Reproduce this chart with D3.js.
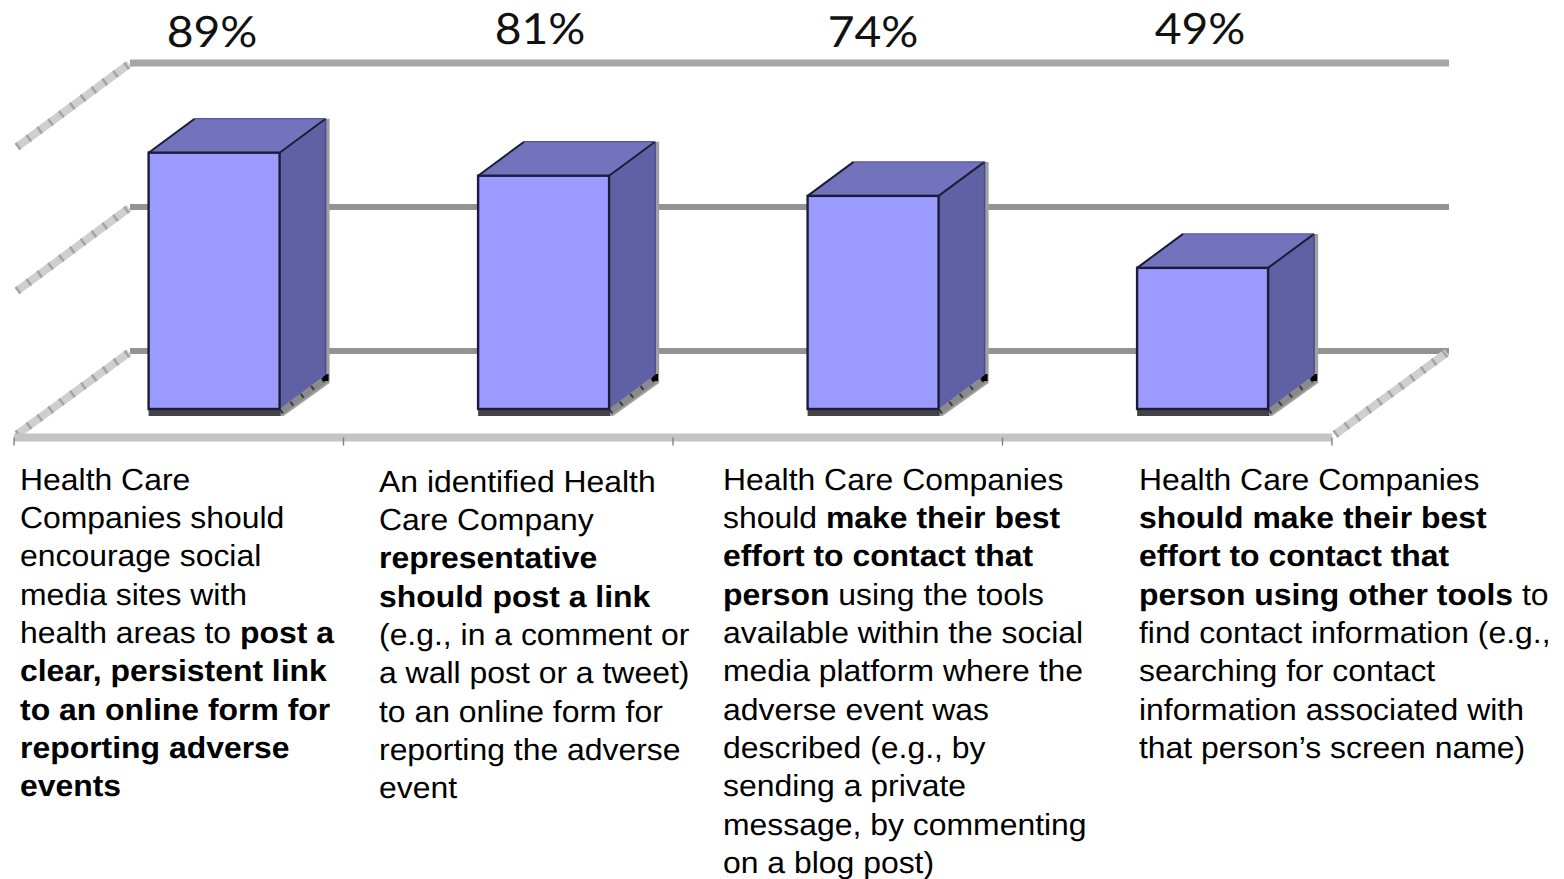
<!DOCTYPE html>
<html>
<head>
<meta charset="utf-8">
<script src="https://cdn.jsdelivr.net/npm/d3@7"></script>
<style>
html,body{margin:0;padding:0;background:#fff;overflow:hidden}
svg{display:block}
text{text-rendering:geometricPrecision}
</style>
</head>
<body>
<svg id="chart" width="1564" height="879"></svg>
<script>
// Survey results: share of respondents agreeing with each recommendation
const categories = ["A", "B", "C", "D"];
const percents = [89, 81, 74, 49];
const gridTicks = [0, 50, 100];

// Wrapped captions; segments marked b are set in bold
const captionLeft = [20, 379, 723, 1139];
const captionTop = [489.5, 491.5, 489.5, 489.5];
const captions = [
  [
    [["Health Care"]],
    [["Companies should"]],
    [["encourage social"]],
    [["media sites with"]],
    [["health areas to "], ["post a", "b"]],
    [["clear, persistent link", "b"]],
    [["to an online form for", "b"]],
    [["reporting adverse", "b"]],
    [["events", "b"]]
  ],
  [
    [["An identified Health"]],
    [["Care Company"]],
    [["representative", "b"]],
    [["should post a link", "b"]],
    [["(e.g., in a comment or"]],
    [["a wall post or a tweet)"]],
    [["to an online form for"]],
    [["reporting the adverse"]],
    [["event"]]
  ],
  [
    [["Health Care Companies"]],
    [["should "], ["make their best", "b"]],
    [["effort to contact that", "b"]],
    [["person", "b"], [" using the tools"]],
    [["available within the social"]],
    [["media platform where the"]],
    [["adverse event was"]],
    [["described (e.g., by"]],
    [["sending a private"]],
    [["message, by commenting"]],
    [["on a blog post)"]]
  ],
  [
    [["Health Care Companies"]],
    [["should make their best", "b"]],
    [["effort to contact that", "b"]],
    [["person using other tools", "b"], [" to"]],
    [["find contact information (e.g.,"]],
    [["searching for contact"]],
    [["information associated with"]],
    [["that person\u2019s screen name)"]]
  ]
];
const percentCenters = [212, 540, 873, 1200];
const percentBaselines = [46.5, 43.5, 46.5, 43.5];

const svg = d3.select("#chart");

// Softens the plot's edges slightly
svg.append("defs").append("filter").attr("id", "soft")
  .append("feGaussianBlur").attr("stdDeviation", 0.7);

const plot = svg.append("g").attr("filter", "url(#soft)");

// Projection: the front of the floor plus a depth offset towards the back wall
const floorLeft = 14, floorRight = 1332, floorFrontY = 437.5;
const depthX = 116, depthY = -86;
const barDepthX = 46, barDepthY = -34;

const x = d3.scaleBand().domain(categories).range([floorLeft, floorRight]);
const wallY = d3.scaleLinear().domain([0, 100]).range([351, 63]);
const barBaseShift = 58;
const barOffset = 134.6, barWidth = 131;

// Side-wall strips with their small hatch marks
function hatchedStrip(g, x0, y0, x1, y1) {
  g.append("path")
    .attr("d", `M${x0},${y0}L${x1},${y1}`)
    .attr("stroke", "#cfcfcf").attr("stroke-width", 8).attr("fill", "none");
  g.append("path")
    .attr("d", `M${x0},${y0}L${x1},${y1}`)
    .attr("stroke", "#a4a4a4").attr("stroke-width", 8)
    .attr("stroke-dasharray", "2.5 11").attr("fill", "none");
}

const walls = plot.append("g");
gridTicks.forEach(t => {
  const yBack = wallY(t);
  if (t > 0) {
    hatchedStrip(walls, floorLeft + 3, yBack + 86 - 2, floorLeft + depthX - 1, yBack + 1);
  }
  walls.append("line")
    .attr("x1", floorLeft + depthX).attr("x2", floorRight + depthX + 1)
    .attr("y1", yBack).attr("y2", yBack)
    .attr("stroke", t === 100 ? "#a6a6a6" : "#939393").attr("stroke-width", t === 100 ? 7 : 6);
});

// Floor edges and category ticks
hatchedStrip(walls, floorLeft + 3, floorFrontY - 3, floorLeft + depthX - 1, floorFrontY + depthY + 1);
hatchedStrip(walls, floorRight + 3, floorFrontY - 3, floorRight + depthX - 1, floorFrontY + depthY + 1);
walls.append("line")
  .attr("x1", floorLeft).attr("x2", floorRight)
  .attr("y1", floorFrontY).attr("y2", floorFrontY)
  .attr("stroke", "#c4c4c4").attr("stroke-width", 8);
walls.selectAll("line.cat")
  .data(categories.map(c => x(c)).concat([floorRight]))
  .join("line").attr("class", "cat")
  .attr("x1", d => d).attr("x2", d => d)
  .attr("y1", floorFrontY).attr("y2", floorFrontY + 8)
  .attr("stroke", "#808080").attr("stroke-width", 1.4);

// Bars as three-faced boxes
const bars = plot.selectAll("g.bar")
  .data(categories.map((c, i) => ({ c, v: percents[i] })))
  .join("g").attr("class", "bar");

const outline = "#1e1e38";
bars.each(function (d) {
  const g = d3.select(this);
  const x0 = x(d.c) + barOffset, x1 = x0 + barWidth;
  const yTop = wallY(d.v) + barBaseShift, yBase = wallY(0) + barBaseShift;
  const dx = barDepthX, dy = barDepthY;

  // Grey shadow down the right edge and along the base
  g.append("path")
    .attr("d", `M${x1 + dx},${yTop + dy}h4V${yBase + dy + 8}L${x1 + 4},${yBase + 7}H${x1}V${yBase}Z`)
    .attr("fill", "#a0a0a0");
  g.append("path")
    .attr("d", `M${x1 + 1},${yBase + 3}L${x1 + dx + 1},${yBase + dy + 4}`)
    .attr("stroke", "#8a8a8a").attr("stroke-width", 6).attr("fill", "none");
  g.append("rect").attr("x", x0).attr("y", yBase).attr("width", barWidth + 1).attr("height", 7)
    .attr("fill", "#434347");
  g.append("path")
    .attr("d", `M${x1 + 1},${yBase + 3}L${x1 + dx},${yBase + dy + 3}`)
    .attr("stroke", "#3a3a3a").attr("stroke-width", 5).attr("stroke-dasharray", "2 11").attr("fill", "none");
  g.append("rect").attr("x", x1 + dx - 3).attr("y", yBase + dy - 1).attr("width", 6).attr("height", 7)
    .attr("fill", "#000");

  // Faces
  g.append("path")
    .attr("d", `M${x0},${yTop}L${x0 + dx},${yTop + dy}H${x1 + dx}L${x1},${yTop}Z`)
    .attr("fill", "#7373bd");
  g.append("path")
    .attr("d", `M${x1},${yTop}L${x1 + dx},${yTop + dy}V${yBase + dy}L${x1},${yBase}Z`)
    .attr("fill", "#6060a4");
  g.append("path")
    .attr("d", `M${x1 + dx},${yTop + dy}V${yBase + dy}`)
    .attr("stroke", "#4c4c8c").attr("stroke-width", 1.5);
  g.append("rect")
    .attr("x", x0).attr("y", yTop).attr("width", barWidth).attr("height", yBase - yTop)
    .attr("fill", "#9a9aff").attr("stroke", outline).attr("stroke-width", 2.4);
  // Dark receding edges of the top face
  g.append("path")
    .attr("d", `M${x0},${yTop}L${x0 + dx},${yTop + dy}M${x1},${yTop}L${x1 + dx},${yTop + dy}`)
    .attr("stroke", outline).attr("stroke-width", 2).attr("fill", "none");
  g.append("path")
    .attr("d", `M${x0 + dx},${yTop + dy}H${x1 + dx}`)
    .attr("stroke", "#5656a0").attr("stroke-width", 1.2);
});

// Value labels above the plot, slightly widened
const percentStretch = 1.075;
svg.selectAll("text.pct")
  .data(percents)
  .join("text").attr("class", "pct")
  .attr("transform", (d, i) => `translate(${percentCenters[i]},${percentBaselines[i]}) scale(${percentStretch},1)`)
  .attr("text-anchor", "middle")
  .attr("font-family", "Lato, 'Open Sans', sans-serif")
  .attr("font-size", 43)
  .attr("fill", "#111")
  .text(d => d + "%");

// Captions beneath each category, widened to their column measure
const lineHeight = 38.35;
const captionStretch = 1.05;
captions.forEach((lines, i) => {
  const t = svg.append("text")
    .attr("class", "caption")
    .attr("transform", `translate(${captionLeft[i]},${captionTop[i]}) scale(${captionStretch},1)`)
    .attr("font-family", "'Liberation Sans', Arial, sans-serif")
    .attr("font-size", 30.4)
    .attr("fill", "#000");
  lines.forEach((segments, k) => {
    const row = t.append("tspan")
      .attr("x", 0)
      .attr("y", k * lineHeight);
    segments.forEach(([str, style]) => {
      row.append("tspan")
        .attr("font-weight", style === "b" ? 700 : 400)
        .style("white-space", "pre")
        .text(str);
    });
  });
});
</script>
</body>
</html>
